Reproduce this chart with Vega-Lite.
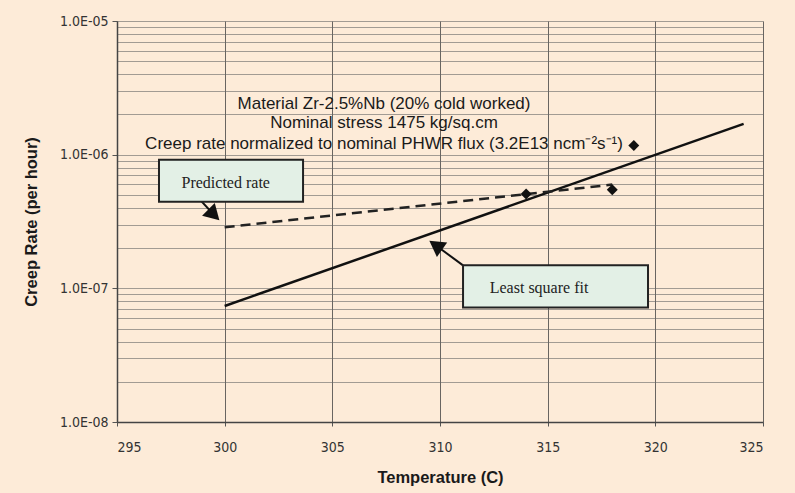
{
  "$schema": "https://vega.github.io/schema/vega-lite/v6.json",
  "autosize": {"type": "none"},
  "padding": {"left": 117, "top": 21, "right": 32, "bottom": 71},
  "width": 646,
  "height": 401,
  "background": "#FDEBD8",
  "config": {
    "view": {"stroke": null},
    "font": "Liberation Sans"
  },
  "datasets": {
    "fit": [{"t": 300, "r": 7.38e-8}, {"t": 324.1, "r": 1.7e-6}],
    "pred": [{"t": 300, "r": 2.86e-7}, {"t": 318, "r": 5.97e-7}],
    "obs": [{"t": 314, "r": 5.08e-7}, {"t": 318, "r": 5.47e-7}, {"t": 319, "r": 1.17e-6}],
    "boxes": [
      {"t": 296.95, "t2": 303.64, "r": 9.18e-7, "r2": 4.45e-7, "label": "Predicted rate", "tc": 300.05, "rc": 6.17e-7},
      {"t": 311.07, "t2": 319.66, "r": 1.486e-7, "r2": 7.2e-8, "label": "Least square fit", "tc": 314.6, "rc": 1.0e-7}
    ],
    "arrow1": [{"t": 298.85, "r": 4.61e-7, "t2": 299.5, "r2": 3.55e-7}],
    "arrow2": [{"t": 311.07, "r": 1.486e-7, "t2": 309.8, "r2": 2.1e-7}],
    "notes": [
      {"t": 307.4, "r": 2.40e-6, "label": "Material Zr-2.5%Nb (20% cold worked)"},
      {"t": 307.4, "r": 1.735e-6, "label": "Nominal stress 1475 kg/sq.cm"},
      {"t": 307.4, "r": 1.208e-6, "label": "Creep rate normalized to nominal PHWR flux (3.2E13 ncm⁻²s⁻¹)"}
    ]
  },
  "layer": [
    {
      "data": {"name": "fit"},
      "mark": {"type": "line", "color": "#111111", "strokeWidth": 2.5},
      "encoding": {
        "x": {
          "field": "t", "type": "quantitative",
          "scale": {"domain": [295, 325], "nice": false, "zero": false},
          "axis": {
            "title": "Temperature (C)",
            "values": [295, 300, 305, 310, 315, 320, 325],
            "grid": true, "gridColor": "#444444", "gridOpacity": 0.8, "gridWidth": 1,
            "domainColor": "#444444", "domainWidth": 1.5,
            "tickColor": "#555555", "tickSize": 4,
            "labelFont": "DejaVu Sans Condensed, Liberation Sans Narrow, sans-serif", "labelFontSize": 14, "labelColor": "#333333", "labelPadding": 14,
            "titleFont": "Liberation Sans", "titleFontSize": 16.5, "titleFontWeight": "bold", "titleColor": "#1a1a1a", "titlePadding": 15
          }
        },
        "y": {
          "field": "r", "type": "quantitative",
          "scale": {"type": "log", "domain": [1e-8, 1e-5], "nice": false},
          "axis": {
            "title": "Creep Rate (per hour)",
            "values": [1e-8, 2e-8, 3e-8, 4e-8, 5e-8, 6e-8, 7e-8, 8e-8, 9e-8, 1e-7, 2e-7, 3e-7, 4e-7, 5e-7, 6e-7, 7e-7, 8e-7, 9e-7, 1e-6, 2e-6, 3e-6, 4e-6, 5e-6, 6e-6, 7e-6, 8e-6, 9e-6, 1e-5],
            "labelExpr": "abs(log(datum.value)/LN10 - round(log(datum.value)/LN10)) < 0.001 ? '1.0E-0' + (-round(log(datum.value)/LN10)) : ''",
            "grid": true, "gridColor": "#666666", "gridOpacity": 0.6, "gridWidth": 1,
            "domainColor": "#444444", "domainWidth": 1.5,
            "tickColor": {"condition": {"test": "abs(log(datum.value)/LN10 - round(log(datum.value)/LN10)) < 0.001", "value": "#555555"}, "value": "transparent"},
            "tickSize": 5,
            "labelFont": "DejaVu Sans Condensed, Liberation Sans Narrow, sans-serif", "labelFontSize": 14, "labelColor": "#333333", "labelPadding": 4,
            "titleFont": "Liberation Sans", "titleFontSize": 16.5, "titleFontWeight": "bold", "titleColor": "#1a1a1a", "titlePadding": 20
          }
        }
      }
    },
    {
      "data": {"name": "pred"},
      "mark": {"type": "line", "color": "#222222", "strokeWidth": 2.5, "strokeDash": [10, 6]},
      "encoding": {
        "x": {"field": "t", "type": "quantitative"},
        "y": {"field": "r", "type": "quantitative"}
      }
    },
    {
      "data": {"name": "obs"},
      "mark": {"type": "point", "shape": "diamond", "filled": true, "color": "#111111", "size": 120, "opacity": 1},
      "encoding": {
        "x": {"field": "t", "type": "quantitative"},
        "y": {"field": "r", "type": "quantitative"}
      }
    },
    {
      "data": {"name": "arrow1"},
      "mark": {"type": "rule", "color": "#111111", "strokeWidth": 2},
      "encoding": {
        "x": {"field": "t", "type": "quantitative"},
        "y": {"field": "r", "type": "quantitative"},
        "x2": {"field": "t2"},
        "y2": {"field": "r2"}
      }
    },
    {
      "data": {"name": "arrow1"},
      "mark": {"type": "point", "shape": "triangle-up", "filled": true, "color": "#111111", "size": 320, "angle": 135, "opacity": 1},
      "encoding": {
        "x": {"field": "t2", "type": "quantitative"},
        "y": {"field": "r2", "type": "quantitative"}
      }
    },
    {
      "data": {"name": "arrow2"},
      "mark": {"type": "rule", "color": "#111111", "strokeWidth": 2},
      "encoding": {
        "x": {"field": "t", "type": "quantitative"},
        "y": {"field": "r", "type": "quantitative"},
        "x2": {"field": "t2"},
        "y2": {"field": "r2"}
      }
    },
    {
      "data": {"name": "arrow2"},
      "mark": {"type": "point", "shape": "triangle-up", "filled": true, "color": "#111111", "size": 320, "angle": 305, "opacity": 1},
      "encoding": {
        "x": {"field": "t2", "type": "quantitative"},
        "y": {"field": "r2", "type": "quantitative"}
      }
    },
    {
      "data": {"name": "boxes"},
      "mark": {"type": "rect", "fill": "#E3F0E6", "stroke": "#222222", "strokeWidth": 2},
      "encoding": {
        "x": {"field": "t", "type": "quantitative"},
        "x2": {"field": "t2"},
        "y": {"field": "r", "type": "quantitative"},
        "y2": {"field": "r2"}
      }
    },
    {
      "data": {"name": "boxes"},
      "mark": {"type": "text", "font": "Liberation Serif", "fontSize": 16, "color": "#222222", "align": "center", "baseline": "middle"},
      "encoding": {
        "x": {"field": "tc", "type": "quantitative"},
        "y": {"field": "rc", "type": "quantitative"},
        "text": {"field": "label"}
      }
    },
    {
      "data": {"name": "notes"},
      "mark": {"type": "text", "font": "Liberation Sans", "fontSize": 17, "color": "#1a1a1a", "align": "center", "baseline": "middle"},
      "encoding": {
        "x": {"field": "t", "type": "quantitative"},
        "y": {"field": "r", "type": "quantitative"},
        "text": {"field": "label"}
      }
    }
  ]
}
